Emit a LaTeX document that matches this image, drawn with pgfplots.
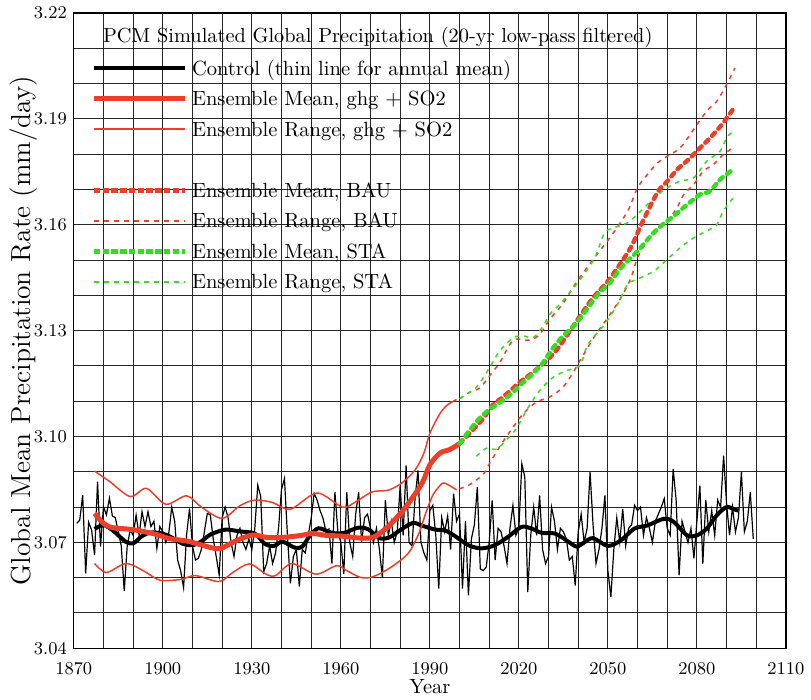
\documentclass[border=0pt]{standalone}
\usepackage{pgfplots}
\pgfplotsset{compat=1.18}
\definecolor{pcmred}{RGB}{238,62,42}
\definecolor{pcmgreen}{RGB}{50,222,30}
\begin{document}
\begin{tikzpicture}
\begin{axis}[
  scale only axis, width=357pt, height=318.5pt,
  xmin=1870, xmax=2110, ymin=3.04, ymax=3.22,
  xtick={1870,1900,1930,1960,1990,2020,2050,2080,2110},
  ytick={3.04,3.07,3.10,3.13,3.16,3.19,3.22},
  minor x tick num=2, minor y tick num=2,
  grid=both,
  major grid style={black!85,line width=0.5pt},
  minor grid style={black!85,line width=0.5pt},
  major tick length=0pt, minor tick length=0pt,
  axis line style={black,line width=0.6pt},
  x tick label style={/pgf/number format/1000 sep={}, font=\fontsize{8.8}{10}\selectfont, yshift=-4pt},
  y tick label style={/pgf/number format/.cd, fixed, fixed zerofill, precision=2, /tikz/.cd, font=\fontsize{8.8}{10}\selectfont},
  xlabel={Year},
  xlabel style={at={(axis description cs:0.5,0)}, anchor=center, yshift=-19pt, font=\fontsize{10.3}{12}\selectfont},
  ylabel={Global Mean Precipitation Rate (mm/day)},
  ylabel style={at={(axis description cs:-0.07,0.5)}, anchor=center, font=\fontsize{13.8}{15}\selectfont},
  legend image code/.code={\draw[#1] (0pt,0pt) -- (45.5pt,0pt);},
  legend cell align=left,
  legend style={at={(rel axis cs:0.024,0.929)}, anchor=north west, draw=none, fill=none, inner sep=0pt, row sep=5.4pt,
    font=\fontsize{10.3}{12}\selectfont,
    nodes={inner sep=0pt},
    /tikz/every odd column/.append style={column sep=2.5pt}},
]
% legend images
\addlegendimage{black, line width=2pt}
\addlegendentry{\strut Control (thin line for annual mean)}
\addlegendimage{color=pcmred, line width=2.5pt}
\addlegendentry{\strut Ensemble Mean, ghg + SO2}
\addlegendimage{legend image code/.code={\draw[pcmred, line width=0.95pt] (0pt,0pt) -- (45.5pt,0pt);}}
\addlegendentry{\strut Ensemble Range, ghg + SO2}
\addlegendimage{empty legend}
\addlegendentry{\strut}
\addlegendimage{color=pcmred, line width=2.2pt, dash pattern=on 3.2pt off 1.2pt}
\addlegendentry{\strut Ensemble Mean, BAU}
\addlegendimage{color=pcmred, line width=0.75pt, dash pattern=on 2.5pt off 2.5pt}
\addlegendentry{\strut Ensemble Range, BAU}
\addlegendimage{color=pcmgreen, line width=2.2pt, dash pattern=on 3.2pt off 1.2pt}
\addlegendentry{\strut Ensemble Mean, STA}
\addlegendimage{color=pcmgreen, line width=0.75pt, dash pattern=on 2.5pt off 2.5pt}
\addlegendentry{\strut Ensemble Range, STA}

% control annual
\addplot[black, line width=0.6pt, forget plot] coordinates {
(1871,3.0754)(1872,3.0763)(1873,3.0834)(1874,3.0612)(1875,3.0757)(1876,3.0735)(1877,3.0664)(1878,3.0872)(1879,3.0688)(1880,3.0801)
(1881,3.0778)(1882,3.0825)(1883,3.0775)(1884,3.0770)(1885,3.0730)(1886,3.0690)(1887,3.0562)(1888,3.0690)(1889,3.0735)(1890,3.0720)
(1891,3.0777)(1892,3.0720)(1893,3.0787)(1894,3.0745)(1895,3.0787)(1896,3.0745)(1897,3.0760)(1898,3.0683)(1899,3.0745)(1900,3.0730)
(1901,3.0700)(1902,3.0725)(1903,3.0800)(1904,3.0760)(1905,3.0650)(1906,3.0620)(1907,3.0572)(1908,3.0720)(1909,3.0796)(1910,3.0690)
(1911,3.0650)(1912,3.0655)(1913,3.0680)(1914,3.0730)(1915,3.0782)(1916,3.0778)(1917,3.0710)(1918,3.0660)(1919,3.0608)(1920,3.0770)
(1921,3.0800)(1922,3.0770)(1923,3.0700)(1924,3.0660)(1925,3.0720)(1926,3.0740)(1927,3.0700)(1928,3.0680)(1929,3.0710)(1930,3.0680)
(1931,3.0740)(1932,3.0862)(1933,3.0830)(1934,3.0617)(1935,3.0640)(1936,3.0690)(1937,3.0640)(1938,3.0670)(1939,3.0740)(1940,3.0850)
(1941,3.0881)(1942,3.0720)(1943,3.0584)(1944,3.0660)(1945,3.0680)(1946,3.0575)(1947,3.0680)(1948,3.0670)(1949,3.0720)(1950,3.0768)
(1951,3.0839)(1952,3.0820)(1953,3.0790)(1954,3.0768)(1955,3.0730)(1956,3.0738)(1957,3.0640)(1958,3.0842)(1959,3.0730)(1960,3.0700)
(1961,3.0610)(1962,3.0842)(1963,3.0700)(1964,3.0660)(1965,3.0780)(1966,3.0842)(1967,3.0700)(1968,3.0770)(1969,3.0780)(1970,3.0740)
(1971,3.0700)(1972,3.0740)(1973,3.0680)(1974,3.0600)(1975,3.0820)(1976,3.0720)(1977,3.0760)(1978,3.0700)(1979,3.0730)(1980,3.0861)
(1981,3.0720)(1982,3.0918)(1983,3.0700)(1984,3.0690)(1985,3.0824)(1986,3.0904)(1987,3.0700)(1988,3.0670)(1989,3.0650)(1990,3.0790)
(1991,3.0805)(1992,3.0720)(1993,3.0569)(1994,3.0770)(1995,3.0730)(1996,3.0775)(1997,3.0680)(1998,3.0838)(1999,3.0760)(2000,3.0780)
(2001,3.0569)(2002,3.0760)(2003,3.0550)(2004,3.0710)(2005,3.0750)(2006,3.0857)(2007,3.0625)(2008,3.0620)(2009,3.0630)(2010,3.0700)
(2011,3.0819)(2012,3.0650)(2013,3.0740)(2014,3.0730)(2015,3.0690)(2016,3.0640)(2017,3.0740)(2018,3.0805)(2019,3.0720)(2020,3.0740)
(2021,3.0923)(2022,3.0885)(2023,3.0559)(2024,3.0720)(2025,3.0800)(2026,3.0720)(2027,3.0833)(2028,3.0680)(2029,3.0640)(2030,3.0660)
(2031,3.0800)(2032,3.0760)(2033,3.0680)(2034,3.0740)(2035,3.0730)(2036,3.0710)(2037,3.0650)(2038,3.0660)(2039,3.0578)(2040,3.0730)
(2041,3.0780)(2042,3.0700)(2043,3.0740)(2044,3.0899)(2045,3.0750)(2046,3.0640)(2047,3.0680)(2048,3.0740)(2049,3.0833)(2050,3.0620)
(2051,3.0545)(2052,3.0680)(2053,3.0770)(2054,3.0700)(2055,3.0795)(2056,3.0690)(2057,3.0740)(2058,3.0750)(2059,3.0805)(2060,3.0790)
(2061,3.0800)(2062,3.0720)(2063,3.0770)(2064,3.0740)(2065,3.0700)(2066,3.0760)(2067,3.0780)(2068,3.0800)(2069,3.0824)(2070,3.0740)
(2071,3.0720)(2072,3.0908)(2073,3.0820)(2074,3.0607)(2075,3.0760)(2076,3.0730)(2077,3.0700)(2078,3.0740)(2079,3.0655)(2080,3.0760)
(2081,3.0861)(2082,3.0640)(2083,3.0820)(2084,3.0730)(2085,3.0790)(2086,3.0720)(2087,3.0820)(2088,3.0800)(2089,3.0946)(2090,3.0810)
(2091,3.0720)(2092,3.0800)(2093,3.0730)(2094,3.0770)(2095,3.0899)(2096,3.0730)(2097,3.0760)(2098,3.0842)(2099,3.0710)
};
% control smoothed
\addplot[black, line width=2pt, smooth, forget plot] coordinates {
(1877,3.0738)(1880,3.0749)(1883,3.0735)(1885,3.0720)(1887.5,3.0702)(1890,3.0697)(1893,3.0718)(1896,3.0728)(1900,3.0725)
(1903,3.0714)(1906.5,3.0697)(1910,3.0692)(1913,3.0703)(1916,3.0722)(1921,3.0736)(1926,3.0731)(1931,3.0725)(1934.5,3.0695)
(1937.5,3.0690)(1940.3,3.0702)(1944.5,3.0685)(1947,3.0688)(1949.5,3.0718)(1952.5,3.0740)(1957,3.0727)(1961,3.0727)(1966,3.0742)
(1969.5,3.0736)(1973,3.0712)(1976.3,3.0714)(1979.7,3.0733)(1984.2,3.0755)(1987.5,3.0747)(1992,3.0736)(1995.4,3.0733)(1999,3.0715)
(2003,3.0692)(2007.3,3.0683)(2011.9,3.0692)(2016.4,3.0716)(2020.9,3.0744)(2024.3,3.0739)(2027.7,3.0727)(2032.2,3.0725)(2036.7,3.0702)
(2039.5,3.0688)(2042,3.0700)(2045,3.0712)(2050,3.0690)(2054.4,3.0706)(2058.9,3.0739)(2063.3,3.0748)(2068.9,3.0767)(2072.2,3.0758)
(2076.7,3.0720)(2080,3.0720)(2083.3,3.0739)(2086.7,3.0777)(2090,3.0800)(2092.8,3.0793)(2094,3.0790)
};
% ghg+SO2 range
\addplot[pcmred, line width=0.75pt, smooth, forget plot] coordinates {
(1877,3.0902)(1882,3.0873)(1889,3.0830)(1894.5,3.0853)(1901,3.0808)(1908,3.0832)(1913,3.0800)(1920,3.0768)(1926,3.0804)
(1931,3.0820)(1937,3.0813)(1943,3.0794)(1952,3.0840)(1960.5,3.0800)(1965,3.0815)(1970.5,3.0843)(1976,3.0848)(1980.5,3.0868)
(1985,3.0905)(1988,3.0953)(1990,3.1009)(1993.4,3.1065)(1996,3.1090)(1999,3.1105)
};
\addplot[pcmred, line width=0.75pt, smooth, forget plot] coordinates {
(1877,3.0640)(1881,3.0615)(1887.7,3.0640)(1894,3.0617)(1899,3.0593)(1906,3.0595)(1911,3.0606)(1919,3.0589)(1923.6,3.0615)
(1929.2,3.0639)(1934.8,3.0610)(1938,3.0606)(1943.5,3.0640)(1951.6,3.0610)(1958.5,3.0634)(1962,3.0620)(1966.5,3.0601)(1970,3.0601)
(1974,3.0615)(1978.5,3.0639)(1983,3.0672)(1986.4,3.0728)(1988.7,3.0785)(1990.9,3.0832)(1993.5,3.0862)(1995,3.0868)(1999,3.0849)
};
% ghg+SO2 mean
\addplot[pcmred, line width=2.5pt, smooth, forget plot] coordinates {
(1877,3.0782)(1880,3.0754)(1883,3.0742)(1890,3.0736)(1897.7,3.0723)(1902,3.0711)(1908,3.0704)(1913,3.0693)(1919,3.0682)
(1924.7,3.0705)(1930.3,3.0721)(1935,3.0714)(1940,3.0714)(1946,3.0719)(1950.5,3.0725)(1955,3.0720)(1960,3.0718)(1967,3.0712)
(1971,3.0715)(1975,3.0738)(1979.7,3.0778)(1983,3.0813)(1987.5,3.0870)(1990,3.0920)(1993.4,3.0953)(1996.7,3.0963)(2000,3.0980)
};
% BAU range
\addplot[pcmred, line width=0.75pt, smooth, dash pattern=on 2.2pt off 2.5pt, forget plot] coordinates {
(2000,3.1107)(2003.5,3.1126)(2006.9,3.1138)(2010.2,3.1173)(2013.6,3.1210)(2017,3.1262)(2019.2,3.1276)(2023.7,3.1273)
(2027.1,3.1290)(2030.4,3.1332)(2034.7,3.1375)(2038.9,3.1431)(2042.2,3.1470)(2046.7,3.1520)(2051.1,3.1568)(2056.7,3.1639)
(2060,3.1705)(2063.3,3.1742)(2066.7,3.1775)(2070,3.1794)(2074.4,3.1818)(2078.9,3.1870)(2083.3,3.1922)(2086.7,3.1950)
(2090,3.1997)(2092.8,3.2044)
};
\addplot[pcmred, line width=0.75pt, smooth, dash pattern=on 2.2pt off 2.5pt, forget plot] coordinates {
(2000,3.0852)(2003.5,3.0864)(2008,3.0893)(2010.2,3.0925)(2013.6,3.0972)(2017,3.1014)(2021.5,3.1065)(2026,3.1098)
(2030.4,3.1112)(2034.9,3.1140)(2038.3,3.1182)(2040.6,3.1215)(2045.6,3.1285)(2050,3.1337)(2054.4,3.1393)(2057.8,3.1450)
(2060,3.1507)(2063.3,3.1554)(2066.7,3.1592)(2070,3.1610)(2073.3,3.1648)(2075.6,3.1686)(2078.9,3.1714)(2082.2,3.1752)
(2085.6,3.1771)(2088.9,3.1799)(2092.2,3.1818)
};
% STA range
\addplot[pcmgreen, line width=0.75pt, smooth, dash pattern=on 2.2pt off 2.5pt, forget plot] coordinates {
(2000,3.1107)(2005.7,3.1140)(2010.2,3.1196)(2013.6,3.1243)(2018.1,3.1280)(2021.5,3.1285)(2024.8,3.1280)(2028.2,3.1313)
(2030.4,3.1346)(2034.4,3.1380)(2041.1,3.1450)(2045.6,3.1507)(2048.9,3.1577)(2052.2,3.1592)(2056.7,3.1606)(2061.1,3.1639)
(2065.6,3.1676)(2070,3.1705)(2074.4,3.1724)(2078.9,3.1733)(2083.3,3.1780)(2087.8,3.1808)(2090,3.1846)(2092.2,3.1865)
};
\addplot[pcmgreen, line width=0.75pt, smooth, dash pattern=on 2.2pt off 2.5pt, forget plot] coordinates {
(2005.7,3.0944)(2009.1,3.0967)(2012.5,3.0964)(2015.8,3.0991)(2019.2,3.1023)(2022.6,3.1075)(2027.1,3.1131)(2031.6,3.1168)
(2036.1,3.1187)(2040.6,3.1201)(2043.3,3.1261)(2048.9,3.1318)(2053.3,3.1375)(2056.7,3.1431)(2061.1,3.1450)(2065.6,3.1469)
(2070,3.1502)(2074.4,3.1535)(2078.9,3.1563)(2083.3,3.1582)(2086.7,3.1600)(2088.9,3.1639)(2092.2,3.1676)
};
% BAU mean
\addplot[pcmred, line width=2.2pt, smooth, line cap=round, dash pattern=on 2.2pt off 2.6pt, forget plot] coordinates {
(2000,3.0980)(2004.5,3.1019)(2008,3.1051)(2011.3,3.1090)(2014.7,3.1112)(2017.5,3.1133)(2020.3,3.1154)(2024.8,3.1182)
(2029.3,3.1215)(2032.7,3.1245)(2036.5,3.1290)(2040.5,3.1340)(2045,3.1393)(2050,3.1440)(2054,3.1487)(2058,3.1540)
(2061,3.1596)(2064.4,3.1655)(2067.2,3.1698)(2070,3.1723)(2073.3,3.1756)(2077.2,3.1785)(2081.1,3.1818)(2085,3.1851)
(2088.9,3.1889)(2092,3.1925)
};
% STA mean
\addplot[pcmgreen, line width=2.2pt, smooth, line cap=round, dash pattern=on 2.2pt off 2.6pt, forget plot] coordinates {
(2000,3.0980)(2005.7,3.1042)(2009.1,3.1070)(2011.3,3.1084)(2014.7,3.1103)(2018.1,3.1126)(2021.5,3.1154)(2024.8,3.1178)
(2028.2,3.1210)(2031.6,3.1252)(2034.9,3.1285)(2039,3.1318)(2042,3.1350)(2046.7,3.1403)(2051.1,3.1440)(2054.4,3.1478)
(2060,3.1525)(2064.4,3.1568)(2067.8,3.1596)(2072.2,3.1625)(2076.7,3.1657)(2081.1,3.1686)(2084.4,3.1695)(2087.8,3.1728)
(2092.2,3.1757)
};
\node[anchor=base west, inner sep=0pt, font=\fontsize{10.2}{12}\selectfont] at (rel axis cs:0.0406,0.953) {PCM Simulated Global Precipitation (20-yr low-pass filtered)};
\end{axis}
\path ([shift={(-37pt,-25pt)}]current axis.south west) rectangle ([shift={(11.5pt,6.5pt)}]current axis.north east);
\end{tikzpicture}
\end{document}
